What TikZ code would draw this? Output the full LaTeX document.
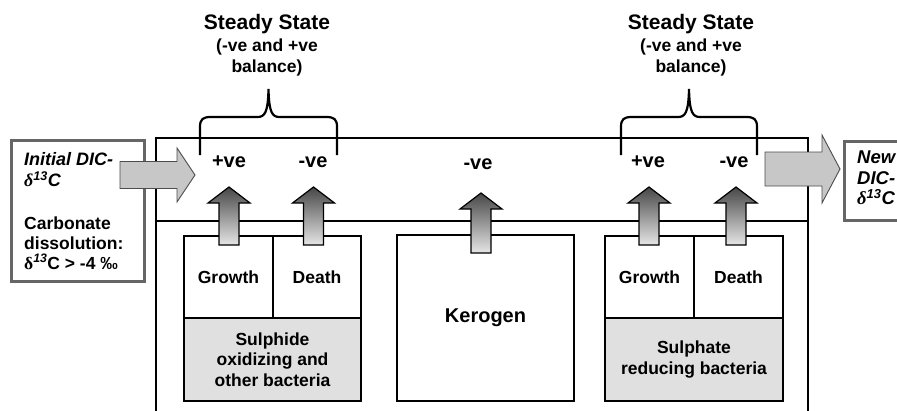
\documentclass[tikz,border=0pt]{standalone}
\usepackage{fontspec}
\setmainfont{Liberation Sans}
\newfontfamily\greekfont{Liberation Serif}
\usetikzlibrary{calc}
\tikzset{
  lbl/.style={font=\bfseries\fontsize{17.5}{20.5}\selectfont, align=center, inner sep=0pt},
  sign/.style={font=\bfseries\fontsize{20}{24}\selectfont, inner sep=0pt},
  cell/.style={draw, line width=2pt, inner sep=0pt, anchor=north west, font=\bfseries\fontsize{17.5}{20.5}\selectfont, align=center},
  frame/.style={line width=2.2pt, line cap=rect},
  bracestyle/.style={line width=2.2pt},
  infobox/.style={draw=black!60, line width=3pt, fill=white},
  bigarrow/.style={fill=black!22, draw=black!70, line width=0.9pt},
  uparr/.style={top color=black!72, bottom color=black!10, draw=black, line width=1.2pt},
}
\newcommand\blockup[2]{%
  \shade[uparr] ($#1+(-10,0)$) -- ($#2+(-10,16)$) -- ($#2+(-21,16)$) -- #2 -- ($#2+(21,16)$) -- ($#2+(10,16)$) -- ($#1+(10,0)$) -- cycle;}
\newcommand\curlybrace[3]{%
  \draw[bracestyle] (#1,155) -- (#1,127) .. controls (#1,119) and ({#1+3},117) .. ({#1+11},117)
    -- ({#3-11},117) .. controls ({#3-4},117) and ({#3-0.5},113) .. (#3,89)
    .. controls ({#3+0.5},113) and ({#3+4},117) .. ({#3+11},117)
    -- ({#2-11},117) .. controls ({#2-3},117) and (#2,119) .. (#2,127) -- (#2,155);}
\begin{document}
\begin{tikzpicture}[x=1pt,y=-1pt]
\useasboundingbox (0,0) rectangle (897,410);
\clip (0,0) rectangle (897,410);

% outer frame (open at bottom)
\draw[frame] (156,420) -- (156,138) -- (808,138) -- (808,420);
\draw[frame] (156,221) -- (808,221);

% left bacteria block
\node[cell, minimum width=89, minimum height=82] (g1) at (183,235) {Growth};
\node[cell, minimum width=88, minimum height=82] (d1) at (272,235) {Death};
\node[cell, fill=black!12, minimum width=177, minimum height=83] (b1) at (183,317) {Sulphide\\oxidizing and\\other bacteria};

% kerogen
\node[cell, minimum width=177, minimum height=166, font=\bfseries\fontsize{20}{24}\selectfont] (ker) at (396,234) {Kerogen};

% right bacteria block
\node[cell, minimum width=89, minimum height=82] (g2) at (604,235) {Growth};
\node[cell, minimum width=89, minimum height=82] (d2) at (693,235) {Death};
\node[cell, fill=black!12, minimum width=178, minimum height=83] (b2) at (604,317) {Sulphate\\reducing bacteria};

% +ve / -ve labels
\node[sign] (p1) at (229,162) {+ve};
\node[sign] (n1) at (313,162) {-ve};
\node[sign] (n0) at (478,164) {-ve};
\node[sign] (p2) at (648,162) {+ve};
\node[sign] (n2) at (734,162) {-ve};

% shaded up arrows from boxes to labels
\coordinate (a1s) at (229,245); \coordinate (a1t) at (229,187);
\coordinate (a2s) at (313.5,245); \coordinate (a2t) at (313.5,187);
\coordinate (a0s) at (481,253); \coordinate (a0t) at (481,193);
\coordinate (a3s) at (649,245); \coordinate (a3t) at (649,187);
\coordinate (a4s) at (736,245); \coordinate (a4t) at (736,187);
\blockup{(a1s)}{(a1t)}
\blockup{(a2s)}{(a2t)}
\blockup{(a0s)}{(a0t)}
\blockup{(a3s)}{(a3t)}
\blockup{(a4s)}{(a4t)}

% braces
\curlybrace{200}{337}{268.5}
\curlybrace{621}{757}{689}

% steady state texts
\node[lbl, font=\bfseries\fontsize{21}{24}\selectfont] (ss1) at (267,24) {Steady State};
\node[lbl] (sb1) at (267,57.5) {(-ve and +ve\\balance)};
\node[lbl, font=\bfseries\fontsize{21}{24}\selectfont] (ss2) at (691,24) {Steady State};
\node[lbl] (sb2) at (691,57.5) {(-ve and +ve\\balance)};

% left info box
\node[infobox, minimum width=133, minimum height=141, anchor=north west, inner sep=0pt] (init) at (10,139) {};
\node[anchor=west, align=left, inner sep=0pt, font=\bfseries\itshape\fontsize{18}{21}\selectfont] (init1) at (24,169.5)
  {Initial DIC-\\{\greekfont\itshape δ}\textsuperscript{\itshape 13}C};
\node[anchor=west, align=left, inner sep=0pt, font=\bfseries\fontsize{17.5}{20}\selectfont] (init2) at (24,243)
  {Carbonate\\dissolution:\\{\greekfont δ}\textsuperscript{\itshape 13}C > -4 ‰};

% right info box (extends past the right edge)
\node[infobox, minimum width=150, minimum height=79, anchor=north west, inner sep=0pt] (new) at (843,140) {};
\node[anchor=west, align=left, inner sep=0pt, font=\bfseries\itshape\fontsize{18.5}{20.5}\selectfont] (new1) at (857,178)
  {New\\DIC-\\{\greekfont\itshape δ}\textsuperscript{\itshape 13}C};

% big gray arrows
\draw[bigarrow] (120,161.5) -- (177,161.5) -- (177,148) -- (195,175) -- (177,202) -- (177,188.5) -- (120,188.5) -- cycle;
\draw[bigarrow] (765,152) -- (822,152) -- (822,135) -- (840,169) -- (822,203) -- (822,186) -- (765,186) -- cycle;
\end{tikzpicture}
\end{document}
